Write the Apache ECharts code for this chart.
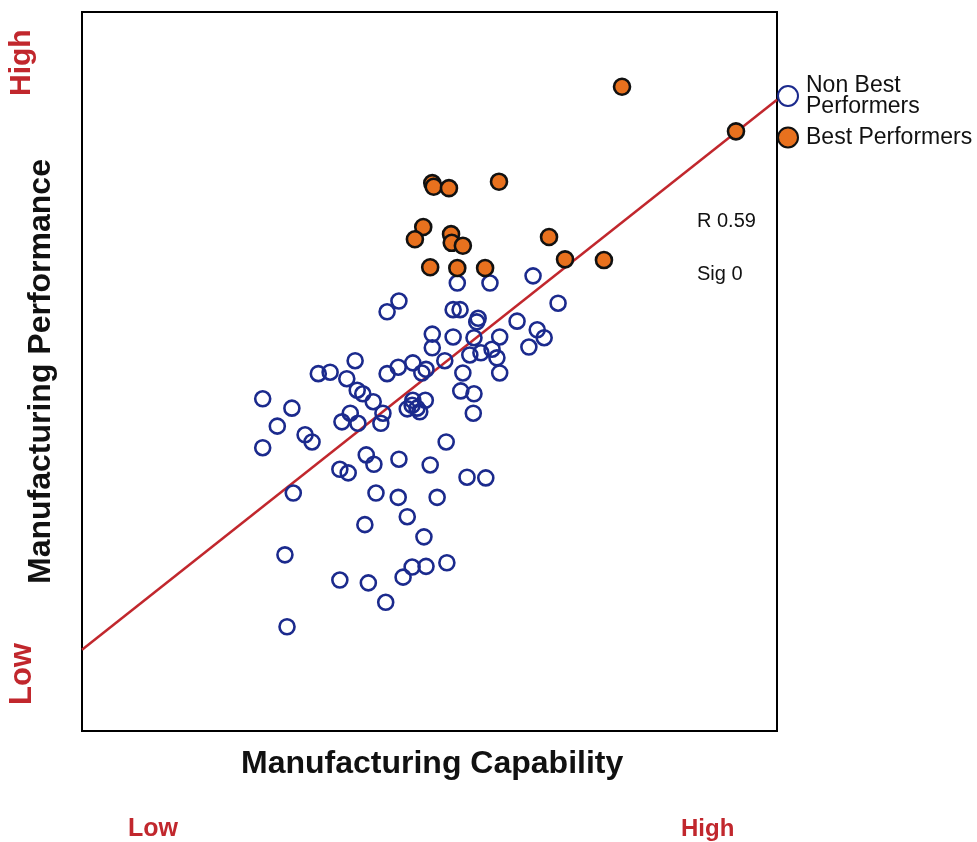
<!DOCTYPE html>
<html>
<head>
<meta charset="utf-8">
<script src="https://cdn.jsdelivr.net/npm/echarts@6/dist/echarts.min.js"></script>
<style>
  html, body { margin: 0; padding: 0; background: #ffffff; }
  #chart { width: 977px; height: 842px; }
</style>
</head>
<body>
<div id="chart"></div>
<script>
// Manufacturing capability (x) vs manufacturing performance (y), 0-100 index scale
const nonBestX = [45.6, 43.9, 39.3, 34.0, 35.7, 38.1, 43.9, 45.5, 39.6, 40.4, 41.9, 43.3, 43.0, 26.0, 30.2, 28.1, 32.1, 33.1, 26.0, 38.6, 37.4, 39.7, 40.9, 45.6,
  64.9, 54.0, 58.7, 68.5, 53.4, 54.4, 57.0, 56.8, 62.6, 50.4, 53.4, 56.4, 60.1, 65.5, 66.5, 64.3, 50.4, 55.8, 57.4, 59.0, 59.7, 52.2, 47.6, 48.9, 49.5, 54.8, 60.1,
  54.5, 56.4, 49.4, 47.5, 48.2, 46.8, 48.6, 47.6, 56.3, 52.4, 50.1, 30.4, 37.1, 38.3, 42.0, 42.3, 45.5, 46.8, 40.7, 29.2, 37.1, 41.2, 43.7, 46.2, 29.5,
  55.4, 58.1, 51.1, 49.2, 52.5, 49.5, 47.5];
const nonBestY = [59.8, 58.3, 51.5, 49.7, 49.9, 49.0, 49.7, 50.6, 47.4, 46.9, 45.8, 44.2, 42.8, 46.2, 44.9, 42.4, 41.2, 40.2, 39.4, 44.2, 43.0, 42.8, 38.4, 37.8,
  63.3, 62.3, 62.3, 59.5, 58.6, 58.6, 57.4, 56.9, 57.0, 55.2, 54.8, 54.7, 54.8, 55.8, 54.7, 53.4, 53.3, 52.3, 52.6, 53.1, 51.9, 51.5, 51.2, 49.8, 50.3, 49.8, 49.8,
  47.3, 46.9, 46.0, 45.3, 44.9, 44.8, 44.4, 46.0, 44.2, 40.2, 37.0, 33.1, 36.4, 35.9, 37.1, 33.1, 32.5, 29.8, 28.7, 24.5, 21.0, 20.6, 17.9, 21.4, 14.5,
  35.3, 35.2, 32.5, 27.0, 23.4, 22.9, 22.8];

const bestX = [77.7, 94.1, 50.4, 50.6, 52.8, 60.0, 49.1, 47.9, 53.1, 53.2, 54.8, 67.2, 69.5, 75.1, 50.1, 54.0, 58.0];
const bestY = [89.6, 83.4, 76.2, 75.7, 75.5, 76.4, 70.1, 68.4, 69.1, 67.9, 67.5, 68.7, 65.6, 65.5, 64.5, 64.4, 64.4];

// Least-squares fit line end points
const fitX = [0, 100];
const fitY = [11.3, 87.8];

const seriesNames = ['Non Best Performers', 'Best Performers'];
const statLabels = ['R 0.59', 'Sig 0'];

const zip = (xs, ys) => xs.map((x, i) => [x, ys[i]]);

const chart = echarts.init(document.getElementById('chart'), null, { renderer: 'canvas' });

const RED = '#c1272d';
const BLUE = '#1b2a8d';
const ORANGE = '#e8711e';
const FONT = 'Liberation Sans, Arial, sans-serif';

chart.setOption({
  animation: false,
  backgroundColor: '#ffffff',
  grid: {
    left: 82, top: 12, width: 695, height: 719,
    show: true, borderColor: '#000000', borderWidth: 2, backgroundColor: 'transparent'
  },
  xAxis: {
    type: 'value', min: 0, max: 100,
    axisLine: { show: false }, axisTick: { show: false }, axisLabel: { show: false }, splitLine: { show: false }
  },
  yAxis: {
    type: 'value', min: 0, max: 100,
    axisLine: { show: false }, axisTick: { show: false }, axisLabel: { show: false }, splitLine: { show: false }
  },
  legend: {
    data: seriesNames,
    orient: 'vertical',
    left: 777, top: 74,
    icon: 'circle',
    itemWidth: 20, itemHeight: 20,
    itemGap: 8,
    padding: 0,
    formatter: name => name === seriesNames[0] ? 'Non Best\nPerformers' : name,
    textStyle: { fontFamily: FONT, fontSize: 23, color: '#111111', lineHeight: 21, padding: [0, 0, 0, 3] }
  },
  graphic: [
    { type: 'text', left: 697, top: 211, style: { text: statLabels[0], fontFamily: FONT, fontSize: 20, fill: '#111111' } },
    { type: 'text', left: 697, top: 264, style: { text: statLabels[1], fontFamily: FONT, fontSize: 20, fill: '#111111' } },
    { type: 'text', left: 241, top: 748, style: { text: 'Manufacturing Capability', fontFamily: FONT, fontSize: 32, fontWeight: 'bold', fill: '#111111' } },
    { type: 'text', x: 25, y: 584, rotation: Math.PI / 2, style: { text: 'Manufacturing Performance', fontFamily: FONT, fontSize: 32, fontWeight: 'bold', fill: '#111111' } },
    { type: 'text', x: 7, y: 96, rotation: Math.PI / 2, style: { text: 'High', fontFamily: FONT, fontSize: 30, fontWeight: 'bold', fill: RED } },
    { type: 'text', x: 7, y: 705, rotation: Math.PI / 2, style: { text: 'Low', fontFamily: FONT, fontSize: 31, fontWeight: 'bold', fill: RED } },
    { type: 'text', left: 128, top: 817, style: { text: 'Low', fontFamily: FONT, fontSize: 25, fontWeight: 'bold', fill: RED } },
    { type: 'text', left: 681, top: 817, style: { text: 'High', fontFamily: FONT, fontSize: 24, fontWeight: 'bold', fill: RED } }
  ],
  series: [
    {
      name: 'fit',
      type: 'line',
      data: zip(fitX, fitY),
      showSymbol: false,
      symbol: 'none',
      lineStyle: { color: RED, width: 2.5 },
      z: 1,
      silent: true
    },
    {
      name: seriesNames[0],
      type: 'scatter',
      data: zip(nonBestX, nonBestY),
      symbol: 'circle',
      symbolSize: 15,
      itemStyle: { color: 'rgba(255,255,255,0)', borderColor: BLUE, borderWidth: 2.6, opacity: 1 },
      z: 2
    },
    {
      name: seriesNames[1],
      type: 'scatter',
      data: zip(bestX, bestY),
      symbol: 'circle',
      symbolSize: 16,
      itemStyle: { color: ORANGE, borderColor: '#111111', borderWidth: 2.6, opacity: 1 },
      z: 3
    }
  ]
});
</script>
</body>
</html>
